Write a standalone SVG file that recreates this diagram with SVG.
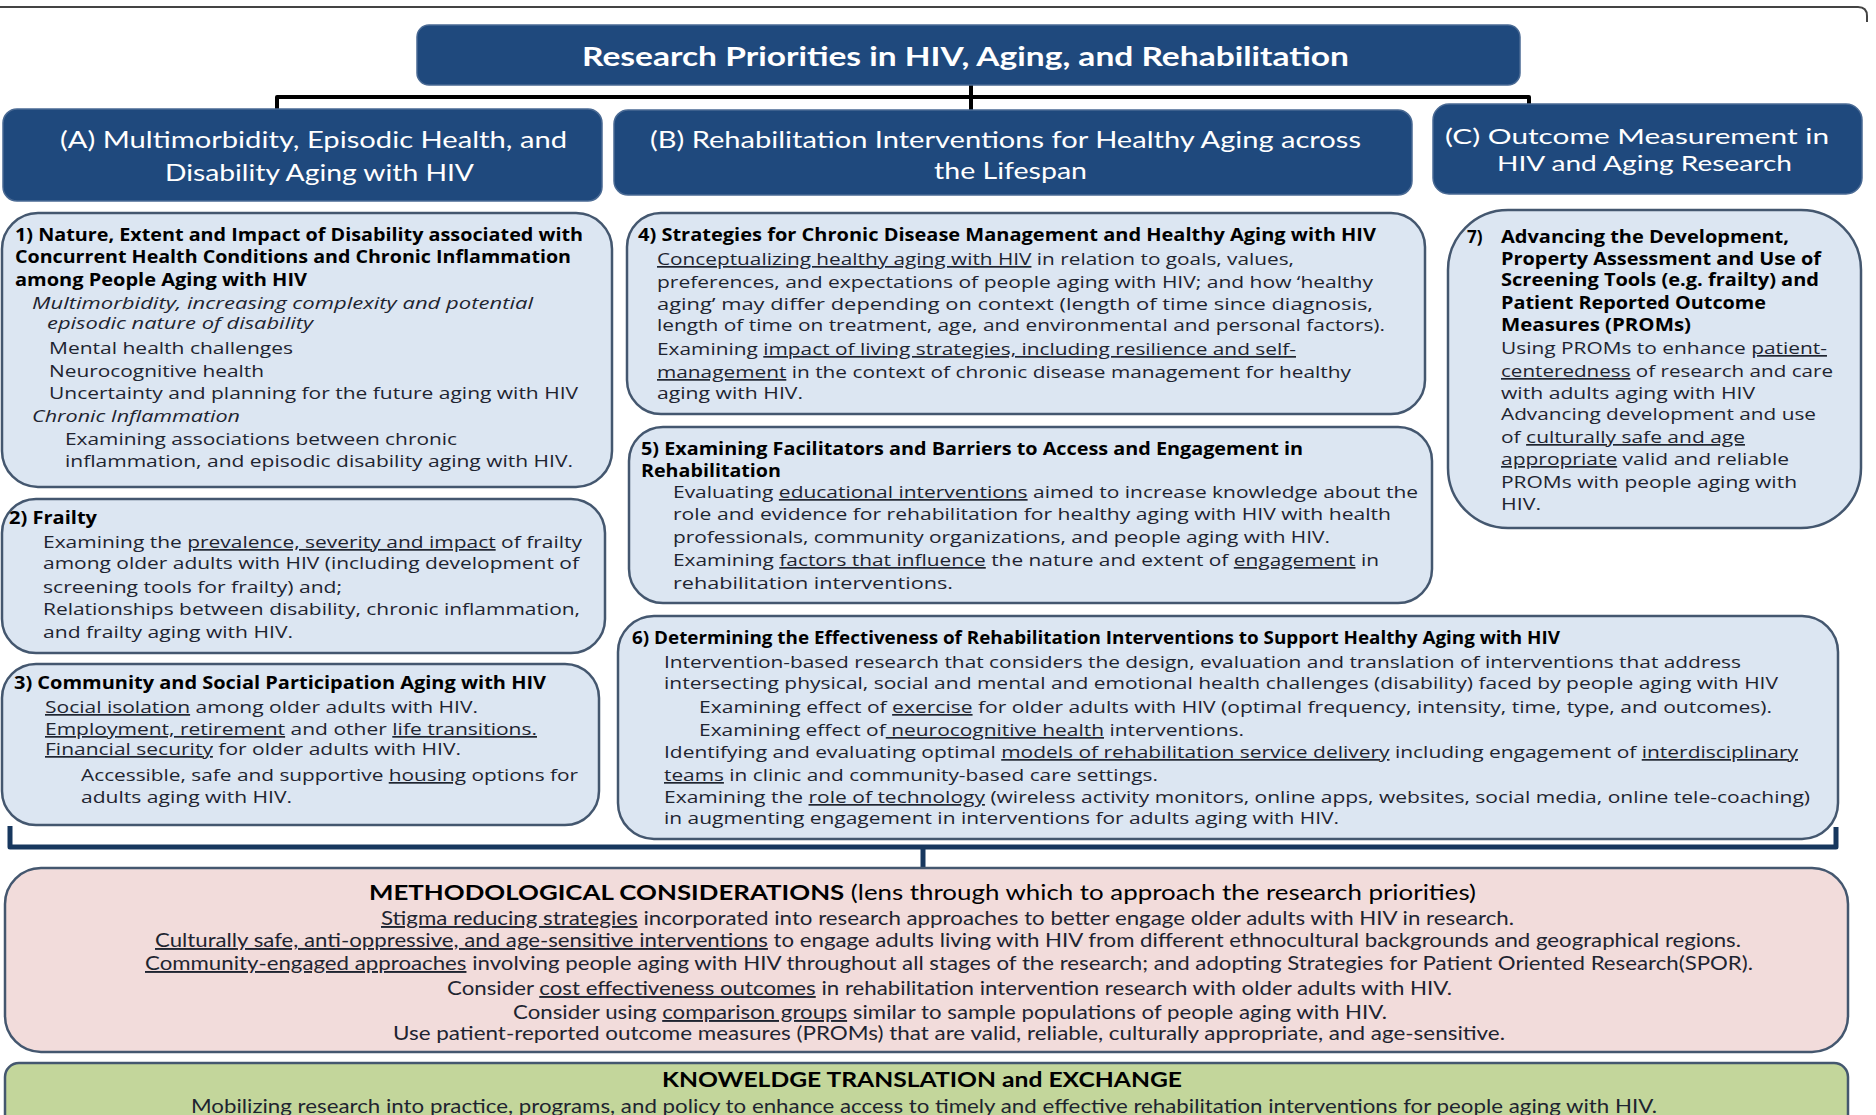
<svg xmlns="http://www.w3.org/2000/svg" width="1876" height="1115" viewBox="0 0 1876 1115">
<style>
.bg{fill:#ffffff}
.hdr{fill:#1F497D;stroke:#4a6a94;stroke-width:1.5}
.box{fill:#DCE6F2;stroke:#44576F;stroke-width:2.5}
.pink{fill:#F2DCDB;stroke:#44576F;stroke-width:2.5}
.green{fill:#C3D69B;stroke:#44576F;stroke-width:2.5}
.ttl{font-family:Lato,"Liberation Sans",sans-serif;font-weight:bold;font-size:26px;fill:#ffffff}
.th{font-family:Lato,"Liberation Sans",sans-serif;font-size:23px;fill:#ffffff}
.thc{font-size:21px}
.b{font-family:"Open Sans","Liberation Sans",sans-serif;font-size:17px;fill:#1e2430}
.bb{font-weight:bold;fill:#000000}
.i{font-style:italic}
.u{text-decoration:underline}
.m{font-family:Lato,"Liberation Sans",sans-serif;font-size:19px;fill:#1e2430}
.mt{font-size:21px;fill:#000000}
.conn{fill:none;stroke:#000000;stroke-width:4;stroke-linejoin:round}
.brk{fill:none;stroke:#17375E;stroke-width:5;stroke-linejoin:round}
</style>
<rect class="bg" x="0" y="0" width="1876" height="1115"/>
<path d="M0,7 H1858 Q1867,7 1867,16 V22" fill="none" stroke="#444" stroke-width="2"/>

<g id="connectors">
<path class="conn" d="M277,110 V97 H1529 V105"/>
<path class="conn" d="M971,85 V110"/>
<path class="brk" d="M10,826 V847 H1836 V827"/>
<path class="brk" d="M923,847 V871"/>
</g>

<g id="title">
<rect class="hdr" x="417" y="25" width="1103" height="60" rx="12"/>
<text class="ttl" x="582" y="66" textLength="767" lengthAdjust="spacingAndGlyphs">Research Priorities in HIV, Aging, and Rehabilitation</text>
</g>

<g id="headerA">
<rect class="hdr" x="3" y="109" width="599" height="92" rx="14"/>
<text class="th" x="60" y="148" textLength="507" lengthAdjust="spacingAndGlyphs">(A) Multimorbidity, Episodic Health, and</text>
<text class="th" x="165" y="181" textLength="309" lengthAdjust="spacingAndGlyphs">Disability Aging with HIV</text>
</g>

<g id="headerB">
<rect class="hdr" x="614" y="110" width="798" height="85" rx="14"/>
<text class="th" x="650" y="148" textLength="711" lengthAdjust="spacingAndGlyphs">(B) Rehabilitation Interventions for Healthy Aging across</text>
<text class="th" x="934" y="179" textLength="153" lengthAdjust="spacingAndGlyphs">the Lifespan</text>
</g>

<g id="headerC">
<rect class="hdr" x="1433" y="104" width="429" height="90" rx="16"/>
<text class="th thc" x="1445" y="144" textLength="384" lengthAdjust="spacingAndGlyphs">(C) Outcome Measurement in</text>
<text class="th thc" x="1497" y="171" textLength="295" lengthAdjust="spacingAndGlyphs">HIV and Aging Research</text>
</g>

<g id="box1">
<rect class="box" x="2" y="213" width="610" height="274" rx="36"/>
<text class="b bb" x="15" y="241" textLength="568" lengthAdjust="spacingAndGlyphs">1) Nature, Extent and Impact of Disability associated with</text>
<text class="b bb" x="15" y="263" textLength="556" lengthAdjust="spacingAndGlyphs">Concurrent Health Conditions and Chronic Inflammation</text>
<text class="b bb" x="15" y="286" textLength="292" lengthAdjust="spacingAndGlyphs">among People Aging with HIV</text>
<text class="b i" x="32" y="309" textLength="501" lengthAdjust="spacingAndGlyphs">Multimorbidity, increasing complexity and potential</text>
<text class="b i" x="47" y="329" textLength="266" lengthAdjust="spacingAndGlyphs">episodic nature of disability</text>
<text class="b" x="49" y="354" textLength="244" lengthAdjust="spacingAndGlyphs">Mental health challenges</text>
<text class="b" x="49" y="377" textLength="215" lengthAdjust="spacingAndGlyphs">Neurocognitive health</text>
<text class="b" x="49" y="399" textLength="529" lengthAdjust="spacingAndGlyphs">Uncertainty and planning for the future aging with HIV</text>
<text class="b i" x="32" y="422" textLength="208" lengthAdjust="spacingAndGlyphs">Chronic Inflammation</text>
<text class="b" x="65" y="445" textLength="392" lengthAdjust="spacingAndGlyphs">Examining associations between chronic</text>
<text class="b" x="65" y="467" textLength="508" lengthAdjust="spacingAndGlyphs">inflammation, and episodic disability aging with HIV.</text>
</g>

<g id="box2">
<rect class="box" x="2" y="499" width="603" height="154" rx="34"/>
<text class="b bb" x="9" y="524" textLength="88" lengthAdjust="spacingAndGlyphs">2) Frailty</text>
<text class="b" x="43" y="548" textLength="539" lengthAdjust="spacingAndGlyphs">Examining the <tspan class="u">prevalence, severity and impact</tspan> of frailty</text>
<text class="b" x="43" y="569" textLength="536" lengthAdjust="spacingAndGlyphs">among older adults with HIV (including development of</text>
<text class="b" x="43" y="593" textLength="299" lengthAdjust="spacingAndGlyphs">screening tools for frailty) and;</text>
<text class="b" x="43" y="615" textLength="537" lengthAdjust="spacingAndGlyphs">Relationships between disability, chronic inflammation,</text>
<text class="b" x="43" y="638" textLength="250" lengthAdjust="spacingAndGlyphs">and frailty aging with HIV.</text>
</g>

<g id="box3">
<rect class="box" x="2" y="664" width="597" height="161" rx="34"/>
<text class="b bb" x="14" y="689" textLength="532" lengthAdjust="spacingAndGlyphs">3) Community and Social Participation Aging with HIV</text>
<text class="b" x="45" y="713" textLength="433" lengthAdjust="spacingAndGlyphs"><tspan class="u">Social isolation</tspan> among older adults with HIV.</text>
<text class="b" x="45" y="735" textLength="492" lengthAdjust="spacingAndGlyphs"><tspan class="u">Employment, retirement</tspan> and other <tspan class="u">life transitions.</tspan></text>
<text class="b" x="45" y="755" textLength="416" lengthAdjust="spacingAndGlyphs"><tspan class="u">Financial security</tspan> for older adults with HIV.</text>
<text class="b" x="81" y="781" textLength="497" lengthAdjust="spacingAndGlyphs">Accessible, safe and supportive <tspan class="u">housing</tspan> options for</text>
<text class="b" x="81" y="803" textLength="211" lengthAdjust="spacingAndGlyphs">adults aging with HIV.</text>
</g>

<g id="box4">
<rect class="box" x="627" y="213" width="798" height="201" rx="34"/>
<text class="b bb" x="638" y="241" textLength="738" lengthAdjust="spacingAndGlyphs">4) Strategies for Chronic Disease Management and Healthy Aging with HIV</text>
<text class="b" x="657" y="265" textLength="637" lengthAdjust="spacingAndGlyphs"><tspan class="u">Conceptualizing healthy aging with HIV</tspan> in relation to goals, values,</text>
<text class="b" x="657" y="288" textLength="716" lengthAdjust="spacingAndGlyphs">preferences, and expectations of people aging with HIV; and how ‘healthy</text>
<text class="b" x="657" y="310" textLength="716" lengthAdjust="spacingAndGlyphs">aging’ may differ depending on context (length of time since diagnosis,</text>
<text class="b" x="657" y="331" textLength="728" lengthAdjust="spacingAndGlyphs">length of time on treatment, age, and environmental and personal factors).</text>
<text class="b" x="657" y="355" textLength="639" lengthAdjust="spacingAndGlyphs">Examining <tspan class="u">impact of living strategies, including resilience and self-</tspan></text>
<text class="b" x="657" y="378" textLength="694" lengthAdjust="spacingAndGlyphs"><tspan class="u">management</tspan> in the context of chronic disease management for healthy</text>
<text class="b" x="657" y="399" textLength="146" lengthAdjust="spacingAndGlyphs">aging with HIV.</text>
</g>

<g id="box5">
<rect class="box" x="629" y="427" width="803" height="176" rx="34"/>
<text class="b bb" x="641" y="455" textLength="662" lengthAdjust="spacingAndGlyphs">5) Examining Facilitators and Barriers to Access and Engagement in</text>
<text class="b bb" x="641" y="477" textLength="140" lengthAdjust="spacingAndGlyphs">Rehabilitation</text>
<text class="b" x="673" y="498" textLength="745" lengthAdjust="spacingAndGlyphs">Evaluating <tspan class="u">educational interventions</tspan> aimed to increase knowledge about the</text>
<text class="b" x="673" y="520" textLength="718" lengthAdjust="spacingAndGlyphs">role and evidence for rehabilitation for healthy aging with HIV with health</text>
<text class="b" x="673" y="543" textLength="657" lengthAdjust="spacingAndGlyphs">professionals, community organizations, and people aging with HIV.</text>
<text class="b" x="673" y="566" textLength="706" lengthAdjust="spacingAndGlyphs">Examining <tspan class="u">factors that influence</tspan> the nature and extent of <tspan class="u">engagement</tspan> in</text>
<text class="b" x="673" y="589" textLength="280" lengthAdjust="spacingAndGlyphs">rehabilitation interventions.</text>
</g>

<g id="box6">
<rect class="box" x="618" y="616" width="1220" height="223" rx="36"/>
<text class="b bb" x="632" y="644" textLength="928" lengthAdjust="spacingAndGlyphs">6) Determining the Effectiveness of Rehabilitation Interventions to Support Healthy Aging with HIV</text>
<text class="b" x="664" y="668" textLength="1077" lengthAdjust="spacingAndGlyphs">Intervention-based research that considers the design, evaluation and translation of interventions that address</text>
<text class="b" x="664" y="689" textLength="1114" lengthAdjust="spacingAndGlyphs">intersecting physical, social and mental and emotional health challenges (disability) faced by people aging with HIV</text>
<text class="b" x="699" y="713" textLength="1073" lengthAdjust="spacingAndGlyphs">Examining effect of <tspan class="u">exercise</tspan> for older adults with HIV (optimal frequency, intensity, time, type, and outcomes).</text>
<text class="b" x="699" y="736" textLength="545" lengthAdjust="spacingAndGlyphs">Examining effect of<tspan class="u"> neurocognitive health</tspan> interventions.</text>
<text class="b" x="664" y="758" textLength="1134" lengthAdjust="spacingAndGlyphs">Identifying and evaluating optimal <tspan class="u">models of rehabilitation service delivery</tspan> including engagement of <tspan class="u">interdisciplinary</tspan></text>
<text class="b" x="664" y="781" textLength="494" lengthAdjust="spacingAndGlyphs"><tspan class="u">teams</tspan> in clinic and community-based care settings.</text>
<text class="b" x="664" y="803" textLength="1146" lengthAdjust="spacingAndGlyphs">Examining the <tspan class="u">role of technology</tspan> (wireless activity monitors, online apps, websites, social media, online tele-coaching)</text>
<text class="b" x="664" y="824" textLength="675" lengthAdjust="spacingAndGlyphs">in augmenting engagement in interventions for adults aging with HIV.</text>
</g>

<g id="box7">
<rect class="box" x="1448" y="210" width="413" height="318" rx="60"/>
<text class="b bb" x="1467" y="243">7)</text>
<text class="b bb" x="1501" y="243" textLength="288" lengthAdjust="spacingAndGlyphs">Advancing the Development,</text>
<text class="b bb" x="1501" y="265" textLength="320" lengthAdjust="spacingAndGlyphs">Property Assessment and Use of</text>
<text class="b bb" x="1501" y="286" textLength="318" lengthAdjust="spacingAndGlyphs">Screening Tools (e.g. frailty) and</text>
<text class="b bb" x="1501" y="309" textLength="265" lengthAdjust="spacingAndGlyphs">Patient Reported Outcome</text>
<text class="b bb" x="1501" y="331" textLength="190" lengthAdjust="spacingAndGlyphs">Measures (PROMs)</text>
<text class="b" x="1501" y="354" textLength="326" lengthAdjust="spacingAndGlyphs">Using PROMs to enhance <tspan class="u">patient-</tspan></text>
<text class="b" x="1501" y="377" textLength="332" lengthAdjust="spacingAndGlyphs"><tspan class="u">centeredness</tspan> of research and care</text>
<text class="b" x="1501" y="399" textLength="254" lengthAdjust="spacingAndGlyphs">with adults aging with HIV</text>
<text class="b" x="1501" y="420" textLength="315" lengthAdjust="spacingAndGlyphs">Advancing development and use</text>
<text class="b" x="1501" y="443" textLength="244" lengthAdjust="spacingAndGlyphs">of <tspan class="u">culturally safe and age</tspan></text>
<text class="b" x="1501" y="465" textLength="288" lengthAdjust="spacingAndGlyphs"><tspan class="u">appropriate</tspan> valid and reliable</text>
<text class="b" x="1501" y="488" textLength="296" lengthAdjust="spacingAndGlyphs">PROMs with people aging with</text>
<text class="b" x="1501" y="510" textLength="40" lengthAdjust="spacingAndGlyphs">HIV.</text>
</g>

<g id="methods">
<rect class="pink" x="5" y="868" width="1843" height="184" rx="36"/>
<text class="m mt" x="369" y="900" textLength="1107" lengthAdjust="spacingAndGlyphs"><tspan font-weight="bold">METHODOLOGICAL CONSIDERATIONS</tspan> (lens through which to approach the research priorities)</text>
<text class="m" x="381" y="925" textLength="1133" lengthAdjust="spacingAndGlyphs"><tspan class="u">Stigma reducing strategies</tspan> incorporated into research approaches to better engage older adults with HIV in research.</text>
<text class="m" x="155" y="947" textLength="1586" lengthAdjust="spacingAndGlyphs"><tspan class="u">Culturally safe, anti-oppressive, and age-sensitive interventions</tspan> to engage adults living with HIV from different ethnocultural backgrounds and geographical regions.</text>
<text class="m" x="145" y="970" textLength="1608" lengthAdjust="spacingAndGlyphs"><tspan class="u">Community-engaged approaches</tspan> involving people aging with HIV throughout all stages of the research; and adopting Strategies for Patient Oriented Research(SPOR).</text>
<text class="m" x="447" y="995" textLength="1005" lengthAdjust="spacingAndGlyphs">Consider <tspan class="u">cost effectiveness outcomes</tspan> in rehabilitation intervention research with older adults with HIV.</text>
<text class="m" x="513" y="1019" textLength="874" lengthAdjust="spacingAndGlyphs">Consider using <tspan class="u">comparison groups</tspan> similar to sample populations of people aging with HIV.</text>
<text class="m" x="393" y="1040" textLength="1112" lengthAdjust="spacingAndGlyphs">Use patient-reported outcome measures (PROMs) that are valid, reliable, culturally appropriate, and age-sensitive.</text>
</g>

<g id="kt">
<rect class="green" x="5" y="1063" width="1843" height="70" rx="14"/>
<text class="m mt" x="662" y="1087" font-weight="bold" textLength="520" lengthAdjust="spacingAndGlyphs">KNOWELDGE TRANSLATION and EXCHANGE</text>
<text class="m" x="191" y="1113" textLength="1466" lengthAdjust="spacingAndGlyphs">Mobilizing research into practice, programs, and policy to enhance access to timely and effective rehabilitation interventions for people aging with HIV.</text>
</g>
</svg>
